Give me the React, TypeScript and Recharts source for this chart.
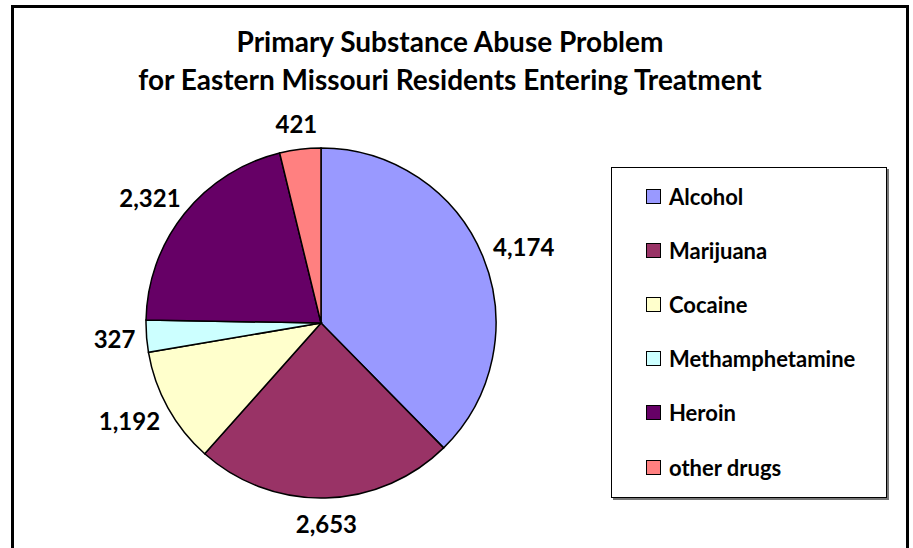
import React from 'react';
import { PieChart, Pie, Cell, Legend } from 'recharts';

const categories = ['Alcohol', 'Marijuana', 'Cocaine', 'Methamphetamine', 'Heroin', 'other drugs'];
const admissions = [4174, 2653, 1192, 327, 2321, 421];
const colors = ['#9999FF', '#993366', '#FFFFCC', '#CCFFFF', '#660066', '#FF8080'];
const titleLines = ['Primary Substance Abuse Problem', 'for Eastern Missouri Residents Entering Treatment'];

const data = categories.map((name, i) => ({ name, value: admissions[i] }));

const FONT = 'Lato, "Open Sans", sans-serif';
const RADIAN = Math.PI / 180;

const renderLabel = (props: any) => {
  const { cx, cy, midAngle, outerRadius, value } = props;
  const text = value.toLocaleString('en-US');
  const fontSize = 24;
  const w = text.length * fontSize * 0.5;
  const h = fontSize;
  const cos = Math.cos(-midAngle * RADIAN);
  const sin = Math.sin(-midAngle * RADIAN);
  const r = outerRadius + 14;
  const x = cx + r * cos + (cos * w) / 2;
  const y = cy + r * sin + (sin * h) / 2;
  return (
    <text
      x={x}
      y={y}
      textAnchor="middle"
      dominantBaseline="central"
      fontFamily={FONT}
      fontWeight={700}
      fontSize={fontSize}
      fill="#000"
    >
      {text}
    </text>
  );
};

const renderLegend = (props: any) => {
  // keep the legend in data order (recharts sorts it by name otherwise)
  const payload = [...props.payload].sort(
    (a: any, b: any) => categories.indexOf(a.value) - categories.indexOf(b.value)
  );
  return (
    <div
      style={{
        width: 276,
        height: 331,
        border: '1.5px solid #000',
        boxSizing: 'border-box',
        boxShadow: '2px 2px 0 #777',
        background: '#fff',
        paddingTop: 1,
      }}
    >
      {payload.map((entry: any) => (
        <div
          key={entry.value}
          style={{ height: 54.2, display: 'flex', alignItems: 'center', paddingLeft: 34 }}
        >
          <span
            style={{
              width: 13,
              height: 13,
              background: entry.color,
              border: '1.5px solid #000',
              display: 'inline-block',
              marginRight: 8,
            }}
          />
          <span style={{ fontFamily: FONT, fontWeight: 700, fontSize: 22, color: '#000' }}>
            {entry.value}
          </span>
        </div>
      ))}
    </div>
  );
};

export default function App() {
  return (
    <div
      style={{
        position: 'absolute',
        left: 0,
        top: 0,
        width: 913,
        height: 548,
        overflow: 'hidden',
        background: '#fff',
      }}
    >
      <div
        style={{
          position: 'absolute',
          left: 11,
          top: 5,
          width: 898,
          height: 570,
          border: '3px solid #000',
          boxSizing: 'border-box',
        }}
      />
      {titleLines.map((line, i) => (
        <div
          key={line}
          style={{
            position: 'absolute',
            left: 0,
            width: 900,
            top: 25 + i * 38,
            textAlign: 'center',
            fontFamily: FONT,
            fontWeight: 700,
            fontSize: 28,
            lineHeight: '32px',
            color: '#000',
          }}
        >
          {line}
        </div>
      ))}
      <div style={{ position: 'absolute', left: 0, top: 0 }}>
        <PieChart width={913} height={548} margin={{ top: 0, right: 0, bottom: 0, left: 0 }}>
          <Pie
            data={data}
            dataKey="value"
            nameKey="name"
            cx={321}
            cy={323}
            outerRadius={175}
            startAngle={90}
            endAngle={-270}
            stroke="#000"
            strokeWidth={1.5}
            label={renderLabel}
            labelLine={false}
            isAnimationActive={false}
          >
            {data.map((d, i) => (
              <Cell key={d.name} fill={colors[i]} />
            ))}
          </Pie>
          <Legend
            layout="vertical"
            align="right"
            verticalAlign="top"
            content={renderLegend}
            wrapperStyle={{ position: 'absolute', left: 611, top: 167, width: 276, height: 331 }}
          />
        </PieChart>
      </div>
    </div>
  );
}
